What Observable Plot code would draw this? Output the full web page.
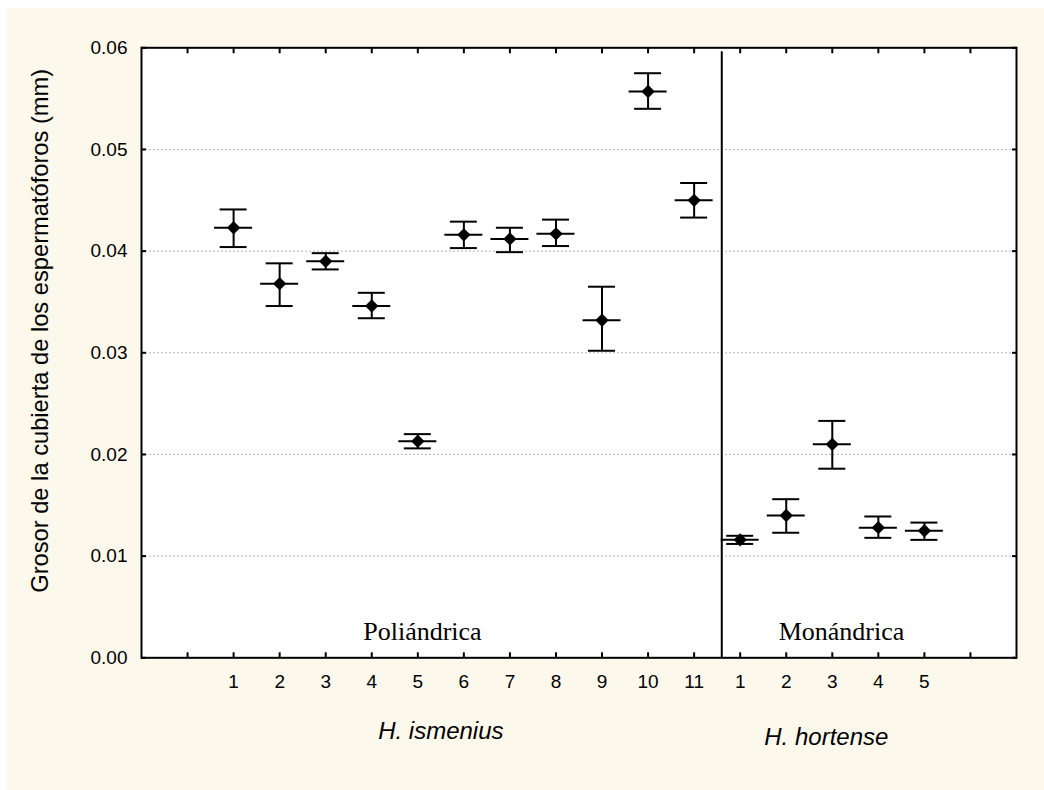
<!DOCTYPE html>
<html>
<head>
<meta charset="utf-8">
<script src="https://cdn.jsdelivr.net/npm/d3@7"></script>
<script src="https://cdn.jsdelivr.net/npm/@observablehq/plot@0.6"></script>
<style>
  html, body { margin: 0; padding: 0; background: #ffffff; }
  #chart { position: absolute; left: 7px; top: 8px; width: 1037px; height: 782px; background: #fdf8ec; }
  #chart svg { display: block; }
</style>
</head>
<body>
<div id="chart"></div>
<script>
// ---- Data ----
const yTitle = "Grosor de la cubierta de los espermatóforos (mm)";
const yTicks = [0, 0.01, 0.02, 0.03, 0.04, 0.05, 0.06];
const xTickLabels = ["", "1", "2", "3", "4", "5", "6", "7", "8", "9", "10", "11", "1", "2", "3", "4", "5", ""];

const poliMean  = [0.0423, 0.0368, 0.0390, 0.0346, 0.0213, 0.0416, 0.0412, 0.0417, 0.0332, 0.0557, 0.0450];
const poliUpper = [0.0441, 0.0388, 0.0398, 0.0359, 0.0220, 0.0429, 0.0423, 0.0431, 0.0365, 0.0575, 0.0467];
const poliLower = [0.0404, 0.0346, 0.0382, 0.0334, 0.0206, 0.0403, 0.0399, 0.0405, 0.0302, 0.0540, 0.0433];

const monoMean  = [0.0116, 0.0140, 0.0210, 0.0128, 0.0125];
const monoUpper = [0.0120, 0.0156, 0.0233, 0.0139, 0.0133];
const monoLower = [0.0112, 0.0123, 0.0186, 0.0118, 0.0116];

const separatorPos = [11.6];
const groupLabels = ["Poliándrica", "Monándrica"];
const groupLabelPos = [5.1, 14.2];
const speciesLabels = ["H. ismenius", "H. hortense"];
const speciesLabelPos = [5.5, 13.87];

// ---- Build rows ----
const rows = [];
poliMean.forEach((m, i) => rows.push({pos: i + 1, mean: m, upper: poliUpper[i], lower: poliLower[i]}));
monoMean.forEach((m, i) => rows.push({pos: poliMean.length + i + 1, mean: m, upper: monoUpper[i], lower: monoLower[i]}));
const xTicks = xTickLabels.map((_, i) => i);

const sans = "'Liberation Sans', Arial, Helvetica, sans-serif";
const serif = "'Liberation Serif', 'Times New Roman', serif";

const chart = Plot.plot({
  width: 1037,
  height: 782,
  marginLeft: 134,
  marginTop: 39.3,
  marginRight: 28,
  marginBottom: 132.7,
  style: {background: "transparent", fontFamily: sans, color: "black", overflow: "visible"},
  x: {domain: [-1, 18]},
  y: {domain: [0, 0.06]},
  marks: [
    Plot.frame({fill: "white"}),
    Plot.gridY(yTicks, {stroke: "#b4b4b4", strokeOpacity: 1, strokeDasharray: "2,2", strokeWidth: 1}),
    Plot.ruleX(separatorPos, {stroke: "black", strokeWidth: 2, insetTop: 4}),
    // error bars
    Plot.ruleX(rows, {x: "pos", y1: "lower", y2: "upper", stroke: "black", strokeWidth: 2}),
    Plot.ruleY(rows, {y: "upper", x1: "pos", x2: "pos", insetLeft: -13.5, insetRight: -13.5, stroke: "black", strokeWidth: 2}),
    Plot.ruleY(rows, {y: "lower", x1: "pos", x2: "pos", insetLeft: -13.5, insetRight: -13.5, stroke: "black", strokeWidth: 2}),
    Plot.ruleY(rows, {y: "mean", x1: "pos", x2: "pos", insetLeft: -19, insetRight: -19, stroke: "black", strokeWidth: 2}),
    Plot.dot(rows, {x: "pos", y: "mean", symbol: "diamond2", r: 6, fill: "black", stroke: "none"}),
    // axis labels
    Plot.axisY({ticks: yTicks, anchor: "left", tickSize: 0, tickPadding: 14, tickFormat: d3.format(".2f"), fontSize: 19, label: null}),
    Plot.axisX({ticks: xTicks, anchor: "bottom", tickSize: 0, tickPadding: 16.5, tickFormat: (d) => xTickLabels[d], fontSize: 19, label: null}),
    // inward ticks on all four sides
    Plot.axisY({ticks: yTicks, anchor: "left", tickSize: 5, dx: 5, fill: "none", strokeWidth: 2, label: null}),
    Plot.axisY({ticks: yTicks, anchor: "right", tickSize: 5, dx: -5, fill: "none", strokeWidth: 2, label: null}),
    Plot.axisX({ticks: xTicks, anchor: "bottom", tickSize: 5, dy: -5, fill: "none", strokeWidth: 2, label: null}),
    Plot.axisX({ticks: xTicks, anchor: "top", tickSize: 5, dy: 5, fill: "none", strokeWidth: 2, label: null}),
    Plot.frame({stroke: "black", strokeWidth: 2}),
    // titles
    Plot.text([yTitle], {frameAnchor: "left", textAnchor: "middle", lineAnchor: "middle", rotate: -90, dx: -101, dy: -22, fontSize: 23.7, fontFamily: sans, fill: "black"}),
    Plot.text(groupLabels, {x: (d, i) => groupLabelPos[i], frameAnchor: "bottom", lineAnchor: "bottom", dy: -18, fontSize: 26, fontFamily: serif, fill: "black", text: (d) => d}),
    Plot.text([speciesLabels[0]], {x: () => speciesLabelPos[0], frameAnchor: "bottom", lineAnchor: "bottom", dy: 81, fontSize: 24, fontFamily: sans, fontStyle: "italic", fill: "black", text: (d) => d}),
    Plot.text([speciesLabels[1]], {x: () => speciesLabelPos[1], frameAnchor: "bottom", lineAnchor: "bottom", dy: 87, fontSize: 24, fontFamily: sans, fontStyle: "italic", fill: "black", text: (d) => d})
  ]
});
document.getElementById("chart").appendChild(chart);
</script>
</body>
</html>
